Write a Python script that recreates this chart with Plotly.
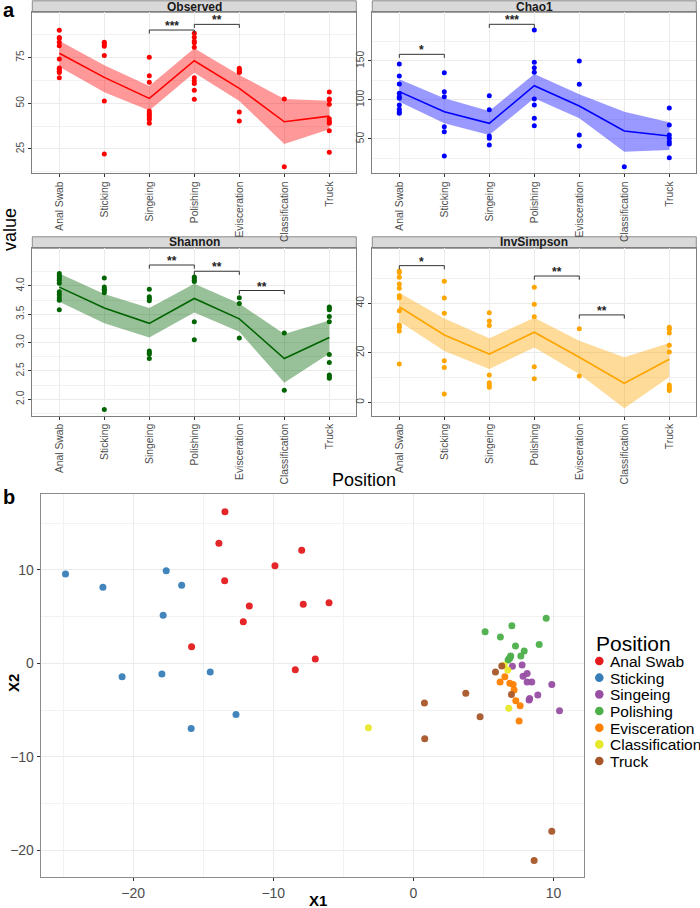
import plotly.graph_objects as go

categories = ["Anal Swab", "Sticking", "Singeing", "Polishing", "Evisceration", "Classification", "Truck"]

# ---- Observed ----
observed_points = [
    [90, 86, 85.4, 83.4, 81.5, 74.2, 69.3, 68.6, 67.5, 66.8, 64],
    [83.4, 82.5, 81.2, 76.1, 51.3, 22.3],
    [75.2, 65.1, 61.5, 45.8, 44.5, 43.4, 42.3, 41.2, 39.1],
    [88.3, 86.1, 83.9, 83.2, 80.7, 64, 62.4, 60.9, 57.1, 52.2],
    [69.2, 68.2, 67.3, 66.8, 45.2, 40.3],
    [52.4, 15.3],
    [56.2, 52.4, 52, 49.5, 41.6, 40.1, 39.1, 35, 23.2],
]
observed_mean = [77.4, 64.2, 52.7, 73.3, 58.2, 39.9, 43.0]
observed_upper = [84.3, 70.8, 59.5, 80.1, 65.5, 52.4, 51.4]
observed_lower = [70.0, 56.0, 46.0, 66.7, 51.3, 27.7, 35.8]
observed_ticks = [25, 50, 75]

# ---- Chao1 ----
chao1_points = [
    [146.2, 130.8, 120.5, 108.6, 104.2, 102.2, 93.6, 88.1, 85, 82.9],
    [135, 110.7, 104.2, 65.8, 59.4, 28.2],
    [105.5, 87.6, 53.8, 50.9, 42.3],
    [189.7, 148.3, 141.4, 135.5, 101.3, 93.6, 76.5, 67],
    [150, 120.1, 55.1, 41],
    [14.5],
    [89.7, 68, 55.1, 50.9, 46.6, 43.6, 26],
]
chao1_mean = [110.7, 85, 70.1, 118.3, 92.3, 60.3, 53.8]
chao1_upper = [126.5, 102.2, 85.9, 133.3, 107.3, 85, 71.4]
chao1_lower = [97.8, 70.1, 55.1, 102.2, 76.5, 33.7, 35.9]
chao1_ticks = [50, 100, 150]

# ---- Shannon ----
shannon_points = [
    [4.22, 4.18, 4.14, 4.1, 4.05, 3.9, 3.85, 3.79, 3.75, 3.58],
    [4.14, 3.98, 3.94, 3.92, 3.88, 1.82],
    [3.94, 3.81, 3.78, 3.74, 2.85, 2.82, 2.8, 2.72],
    [4.16, 4.14, 4.1, 4.08, 3.37, 3.05],
    [3.79, 3.69, 3.08],
    [3.17, 2.16],
    [3.63, 3.61, 3.58, 3.46, 3.37, 2.79, 2.65, 2.43, 2.4, 2.37],
]
shannon_mean = [3.98, 3.61, 3.34, 3.78, 3.42, 2.72, 3.09]
shannon_upper = [4.22, 3.86, 3.61, 4.04, 3.69, 3.15, 3.39]
shannon_lower = [3.72, 3.34, 3.09, 3.53, 3.19, 2.29, 2.81]
shannon_ticks = [2.0, 2.5, 3.0, 3.5, 4.0]

# ---- InvSimpson ----
invsimpson_points = [
    [53, 52.4, 50.5, 47.8, 46.1, 43, 42.2, 37, 31.2, 30.3, 28.8, 15.5],
    [48.9, 42.1, 36, 16.8, 14.1, 3.4],
    [36.2, 32.8, 31, 11, 7.9, 7, 6.1],
    [46.5, 39.6, 34.6, 14.4, 9.5],
    [29.7, 10.6],
    [],
    [30.3, 29.5, 28, 23, 20.3, 7, 6.2, 5.5, 4.8],
]
invsimpson_mean = [38.6, 27.2, 19.5, 28.3, 18.2, 7.7, 17.4]
invsimpson_upper = [44.3, 33.9, 25.9, 34.2, 24.9, 18.2, 24.0]
invsimpson_lower = [32.6, 20.7, 13.5, 22.1, 11.4, -2.4, 10.2]
invsimpson_ticks = [0, 20, 40]

# significance brackets: (group1, group2, y level, label)
observed_sig = [(2, 3, 90.1, "***"), (3, 4, 93.2, "**")]
chao1_sig = [(0, 1, 158.5, "*"), (2, 3, 197, "***")]
shannon_sig = [(2, 3, 4.37, "**"), (3, 4, 4.26, "**"), (4, 5, 3.92, "**")]
invsimpson_sig = [(0, 1, 55.2, "*"), (3, 4, 51, "**"), (4, 5, 35.3, "**")]

# ---- ordination scatter (panel b) ----
anal_swab_x1 = [-13.45, -13.88, -7.97, -9.88, -13.47, -11.71, -12.14, -7.86, -6.02, -15.83, -7.0, -8.43]
anal_swab_x2 = [16.24, 12.86, 12.1, 10.46, 8.85, 6.14, 4.46, 6.32, 6.5, 1.78, 0.46, -0.68]
sticking_x1 = [-24.83, -22.16, -17.64, -16.54, -17.86, -20.79, -17.95, -14.5, -12.66, -15.86]
sticking_x2 = [9.57, 8.14, 9.92, 8.36, 5.14, -1.43, -1.15, -0.93, -5.47, -6.96]
singeing_x1 = [7.07, 7.76, 8.12, 7.83, 8.12, 8.45, 9.88, 8.88, 8.26, 8.3, 10.43]
singeing_x2 = [-0.32, -0.18, -1.07, -1.39, -2.0, -2.0, -2.25, -3.39, -3.93, -3.75, -5.07]
polishing_x1 = [9.48, 7.03, 5.12, 6.21, 8.98, 7.29, 7.91, 7.67, 6.9, 6.76, 6.86, 6.95]
polishing_x2 = [4.82, 4.03, 3.39, 2.82, 2.03, 1.85, 1.32, 0.78, 0.64, 0.35, 0.53, 0.8]
evisceration_x1 = [6.53, 6.19, 6.88, 7.12, 7.19, 7.31, 7.62, 7.55]
evisceration_x2 = [-1.43, -2.0, -2.14, -2.25, -2.86, -4.0, -4.54, -6.18]
classification_x1 = [-3.21, 6.48, 6.74, 6.81]
classification_x2 = [-6.9, -0.21, -0.71, -4.79]
truck_x1 = [6.31, 5.86, 3.74, 7.0, 0.79, 4.76, 0.81, 9.88, 8.62]
truck_x2 = [-0.29, -0.93, -3.21, -3.32, -4.25, -5.71, -8.07, -17.97, -21.11]

group_x1 = [anal_swab_x1, sticking_x1, singeing_x1, polishing_x1, evisceration_x1, classification_x1, truck_x1]
group_x2 = [anal_swab_x2, sticking_x2, singeing_x2, polishing_x2, evisceration_x2, classification_x2, truck_x2]
group_colors = ["#E41A1C", "#377EB8", "#984EA3", "#4DAF4A", "#FF7F00", "#E8E82A", "#A65628"]

FONT = "Liberation Sans, Arial, sans-serif"
W, H = 700, 908

fig = go.Figure()

panels = [
    dict(name="Observed", pts=observed_points, mean=observed_mean, up=observed_upper, lo=observed_lower,
         sig=observed_sig, ticks=observed_ticks, color="#FF0000", fill="rgba(255,0,0,0.4)",
         xd=(32.3, 356.3), yd=(12.3, 173.3), rng=(11.7, 99.8), fmt=""),
    dict(name="Chao1", pts=chao1_points, mean=chao1_mean, up=chao1_upper, lo=chao1_lower,
         sig=chao1_sig, ticks=chao1_ticks, color="#0000FF", fill="rgba(0,0,255,0.4)",
         xd=(372.3, 696.3), yd=(12.3, 173.3), rng=(6, 212.4), fmt=""),
    dict(name="Shannon", pts=shannon_points, mean=shannon_mean, up=shannon_upper, lo=shannon_lower,
         sig=shannon_sig, ticks=shannon_ticks, color="#006400", fill="rgba(0,100,0,0.4)",
         xd=(32.3, 356.3), yd=(248.3, 415.7), rng=(1.71, 4.665), fmt=".1f"),
    dict(name="InvSimpson", pts=invsimpson_points, mean=invsimpson_mean, up=invsimpson_upper, lo=invsimpson_lower,
         sig=invsimpson_sig, ticks=invsimpson_ticks, color="#FFA500", fill="rgba(255,165,0,0.4)",
         xd=(372.3, 696.3), yd=(248.3, 415.7), rng=(-5.4, 62.2), fmt=""),
]

idx = list(range(len(categories)))
shapes = []
annotations = []

for i, p in enumerate(panels, start=1):
    xa = "x" if i == 1 else f"x{i}"
    ya = "y" if i == 1 else f"y{i}"
    fig.add_trace(go.Scatter(x=idx + idx[::-1], y=p["up"] + p["lo"][::-1], fill="toself",
                             fillcolor=p["fill"], line=dict(width=0), mode="lines",
                             hoverinfo="skip", showlegend=False, xaxis=xa, yaxis=ya))
    fig.add_trace(go.Scatter(x=idx, y=p["mean"], mode="lines", line=dict(color=p["color"], width=1.6),
                             showlegend=False, xaxis=xa, yaxis=ya))
    px, py = [], []
    for k, vals in enumerate(p["pts"]):
        px += [k] * len(vals)
        py += vals
    fig.add_trace(go.Scatter(x=px, y=py, mode="markers", marker=dict(color=p["color"], size=5),
                             showlegend=False, xaxis=xa, yaxis=ya))
    step = p["ticks"][1] - p["ticks"][0]
    minor_vals = [p["ticks"][0] - step / 2 + step * m for m in range(len(p["ticks"]) + 1)]
    ax_common = dict(showline=True, mirror=True, linecolor="#7F7F7F", linewidth=1,
                     gridcolor="#EBEBEB", gridwidth=1, zeroline=False,
                     ticks="outside", ticklen=3, tickcolor="#333333",
                     tickfont=dict(family=FONT, size=10.3, color="#4D4D4D"))
    fig.update_layout(**{
        ("xaxis" if i == 1 else f"xaxis{i}"): dict(
            ax_common, domain=[p["xd"][0] / W, p["xd"][1] / W], range=[-0.6, 6.6],
            tickmode="array", tickvals=idx, ticktext=categories, tickangle=-90,
            anchor=ya),
        ("yaxis" if i == 1 else f"yaxis{i}"): dict(
            ax_common, domain=[1 - p["yd"][1] / H, 1 - p["yd"][0] / H], range=list(p["rng"]),
            tickmode="array", tickvals=p["ticks"], tickformat=p["fmt"], tickangle=-90,
            minor=dict(tickmode="array", tickvals=minor_vals, showgrid=True,
                       gridcolor="#F2F2F2", gridwidth=0.6),
            anchor=xa),
    })
    # strip
    shapes.append(dict(type="rect", xref="paper", yref="paper", layer="below",
                       x0=p["xd"][0] / W, x1=p["xd"][1] / W,
                       y0=1 - p["yd"][0] / H, y1=1 - (p["yd"][0] - 11.5) / H,
                       fillcolor="#D9D9D9", line=dict(color="#8C8C8C", width=1)))
    annotations.append(dict(text=f"<b>{p['name']}</b>", xref="paper", yref="paper",
                            x=(p["xd"][0] + p["xd"][1]) / 2 / W, y=1 - (p["yd"][0] - 5.8) / H,
                            showarrow=False, font=dict(family=FONT, size=12, color="#1A1A1A"),
                            xanchor="center", yanchor="middle"))
    # brackets
    span = p["rng"][1] - p["rng"][0]
    tip = 0.022 * span
    for g1, g2, yl, lab in p["sig"]:
        shapes.append(dict(type="path", xref=xa, yref=ya,
                           path=f"M {g1} {yl - tip} L {g1} {yl} L {g2} {yl} L {g2} {yl - tip}",
                           line=dict(color="#333333", width=1)))
        annotations.append(dict(text=f"<b>{lab}</b>", xref=xa, yref=ya, x=(g1 + g2) / 2, y=yl,
                                showarrow=False, yshift=4, font=dict(family=FONT, size=12, color="#222222"),
                                xanchor="center", yanchor="middle"))

# scatter panel b
for name, xs, ys, col in zip(categories, group_x1, group_x2, group_colors):
    fig.add_trace(go.Scatter(x=xs, y=ys, mode="markers", name=name,
                             marker=dict(color=col, size=7, opacity=0.95),
                             showlegend=False, xaxis="x5", yaxis="y5"))

sc_common = dict(showline=True, mirror=True, linecolor="#8C8C8C", linewidth=1,
                 gridcolor="#EBEBEB", gridwidth=1, zeroline=False,
                 ticks="outside", ticklen=3, tickcolor="#333333",
                 tickfont=dict(family=FONT, size=14, color="#4D4D4D"),
                 tick0=0, dtick=10,
                 minor=dict(dtick=5, showgrid=True, gridcolor="#F2F2F2", gridwidth=0.6))
fig.update_layout(
    xaxis5=dict(sc_common, domain=[40.7 / W, 584.3 / W], range=[-26.6, 12.2], anchor="y5"),
    yaxis5=dict(sc_common, domain=[1 - 877.3 / H, 1 - 494.3 / H], range=[-22.9, 18.1], anchor="x5"),
)

# legend for panel b (title, swatches, labels)
annotations.append(dict(text="Position", xref="paper", yref="paper", x=594 / W, y=1 - 643 / H,
                        showarrow=False, font=dict(family=FONT, size=21, color="black"),
                        xanchor="left", yanchor="middle"))
for j, (name, col) in enumerate(zip(categories, group_colors)):
    cy = 661 + j * 16.67
    shapes.append(dict(type="circle", xref="paper", yref="paper",
                       x0=(599.3 - 4.3) / W, x1=(599.3 + 4.3) / W,
                       y0=1 - (cy + 4.3) / H, y1=1 - (cy - 4.3) / H,
                       fillcolor=col, line=dict(width=0)))
    annotations.append(dict(text=name, xref="paper", yref="paper", x=607.5 / W, y=1 - (cy + 0.5) / H,
                            showarrow=False, font=dict(family=FONT, size=15.5, color="black"),
                            xanchor="left", yanchor="middle"))

annotations += [
    dict(text="<b>a</b>", xref="paper", yref="paper", x=1 / W, y=1 - 10 / H, showarrow=False,
         font=dict(family=FONT, size=20, color="black"), xanchor="left", yanchor="middle"),
    dict(text="<b>b</b>", xref="paper", yref="paper", x=1 / W, y=1 - 497 / H, showarrow=False,
         font=dict(family=FONT, size=20, color="black"), xanchor="left", yanchor="middle"),
    dict(text="value", xref="paper", yref="paper", x=10 / W, y=1 - 230 / H, showarrow=False,
         textangle=-90, font=dict(family=FONT, size=18, color="black"), xanchor="center", yanchor="middle"),
    dict(text="Position", xref="paper", yref="paper", x=364 / W, y=1 - 480 / H, showarrow=False,
         font=dict(family=FONT, size=18, color="black"), xanchor="center", yanchor="middle"),
    dict(text="<b>X1</b>", xref="paper", yref="paper", x=318 / W, y=1 - 900 / H, showarrow=False,
         font=dict(family=FONT, size=15, color="black"), xanchor="center", yanchor="middle"),
    dict(text="<b>X2</b>", xref="paper", yref="paper", x=13 / W, y=1 - 683 / H, showarrow=False,
         textangle=-90, font=dict(family=FONT, size=15, color="black"), xanchor="center", yanchor="middle"),
]

fig.update_layout(
    width=W, height=H,
    margin=dict(l=0, r=0, t=0, b=0),
    paper_bgcolor="white", plot_bgcolor="white",
    font=dict(family=FONT),
    shapes=shapes, annotations=annotations,
    showlegend=False,
)

fig.write_html("out.html", config={"displayModeBar": False},
               post_script="document.body.style.margin='0';document.body.style.overflow='hidden';")
